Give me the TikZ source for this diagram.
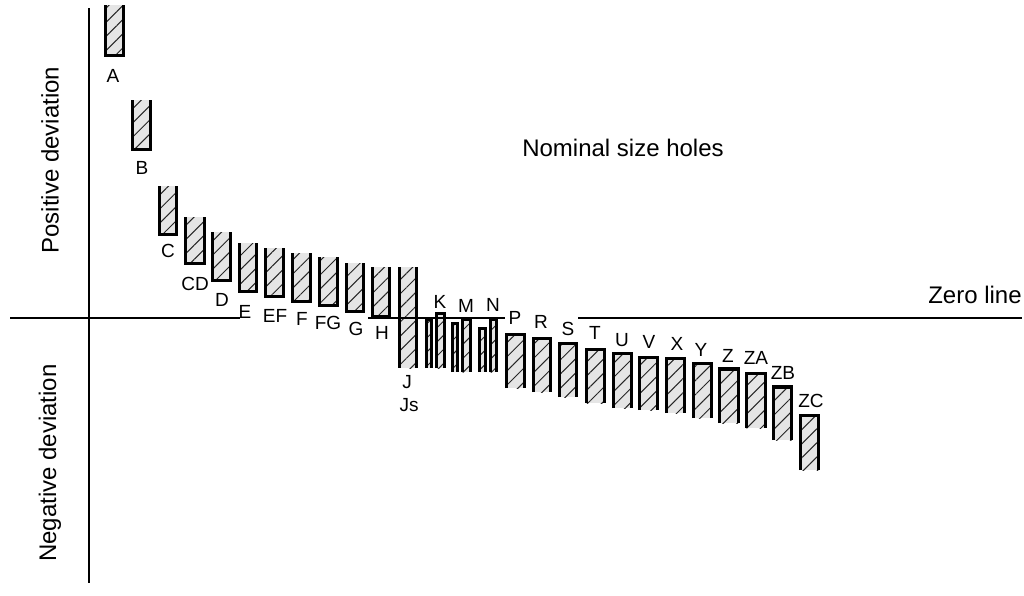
\documentclass[tikz,border=0pt]{standalone}
\usepackage{fontspec}
\setmainfont{Liberation Sans}
\usetikzlibrary{patterns.meta}

\tikzset{
  hatch/.style={preaction={fill=black!10}, pattern={Lines[angle=45,distance=10pt,line width=1pt]}, pattern color=black!85},
  bar/.style={hatch, line width=3.6pt},
  tag/.style={font=\fontsize{19}{19}\selectfont, inner sep=0pt},
  bigtext/.style={font=\fontsize{24}{24}\selectfont, inner sep=0pt},
  thin/.style={line width=1.3pt}
}

\begin{document}
\begin{tikzpicture}[x=1pt, y=-1pt]

  \useasboundingbox (0,0) rectangle (1024,595);

  % Bars above the zero line
  \draw[bar] (105.5,5) |- (123.5,55.5) -- (123.5,5);
  \draw[bar] (132.5,100) |- (150.5,149.5) -- (150.5,100);
  \draw[bar] (159.5,186) |- (176.5,234.5) -- (176.5,186);
  \draw[bar] (185.5,217) |- (204.5,263.5) -- (204.5,217);
  \draw[bar] (212.5,232) |- (230.5,280.5) -- (230.5,232);
  \draw[bar] (239.5,243) |- (256.5,291.5) -- (256.5,243);
  \draw[bar] (265.5,248) |- (283.5,296.5) -- (283.5,248);
  \draw[bar] (292.5,253) |- (310.5,301.5) -- (310.5,253);
  \draw[bar] (319.5,257) |- (337.5,305.5) -- (337.5,257);
  \draw[bar] (346.5,263) |- (363.5,311.5) -- (363.5,263);
  \draw[bar] (372.5,267) |- (389.5,317) -- (389.5,267);

  % Bar across the zero line
  \fill[hatch] (399.5,267) rectangle (416.5,368);
  \draw[line width=3.6pt] (399.5,267) -- (399.5,368) (416.5,267) -- (416.5,368);

  % Bars below the zero line
  \draw[bar] (426.5,368) |- (431.5,319) -- (431.5,368);
  \draw[bar] (436.5,368) |- (444.5,313.5) -- (444.5,368);
  \draw[bar] (452.5,372) |- (457.5,323.5) -- (457.5,372);
  \draw[bar] (462.5,372) |- (470.5,319.5) -- (470.5,372);
  \draw[bar] (479.5,372) |- (485.5,328.5) -- (485.5,372);
  \draw[bar] (490.5,372) |- (496.5,319.5) -- (496.5,372);
  \draw[bar] (506.5,388) |- (524.5,334.5) -- (524.5,388);
  \draw[bar] (533.5,392) |- (550.5,338.5) -- (550.5,392);
  \draw[bar] (559.5,397) |- (576.5,343.5) -- (576.5,397);
  \draw[bar] (586.5,403) |- (604.5,349.5) -- (604.5,403);
  \draw[bar] (613.5,408) |- (631.5,353.5) -- (631.5,408);
  \draw[bar] (639.5,410) |- (657.5,357.5) -- (657.5,410);
  \draw[bar] (666.5,413) |- (684.5,358.5) -- (684.5,413);
  \draw[bar] (693.5,418) |- (711.5,363.5) -- (711.5,418);
  \draw[bar] (719.5,423) |- (738.5,369) -- (738.5,423);
  \draw[bar] (746.5,428) |- (765.5,373.5) -- (765.5,428);
  \draw[bar] (773.5,440) |- (791.5,387) -- (791.5,440);
  \draw[bar] (800.5,470) |- (818.5,415.5) -- (818.5,470);

  % Axes
  \coordinate (top) at (89,8);
  \coordinate (bottom) at (89,583);
  \coordinate (z1) at (10,318);
  \coordinate (z2) at (240,318);
  \coordinate (z3) at (368,318);
  \coordinate (z4) at (505,318);
  \coordinate (z5) at (578,318);
  \coordinate (z6) at (1022,318);
  \draw[thin] (top) -- (bottom);
  \draw[thin] (z1) -- (z2);
  \draw[thin] (z3) -- (z4);
  \draw[thin] (z5) -- (z6);

  % Texts
  \node[bigtext, rotate=90] (pos) at (50,160) {Positive deviation};
  \node[bigtext, rotate=90] (neg) at (50,463) {Negative deviation};
  \node[bigtext] (title) at (623,148) {Nominal size holes};
  \node[bigtext] (zero) at (975,295) {Zero line};

  % Letters
  \node[tag] (tA) at (113,76) {A};
  \node[tag] (tB) at (142,168) {B};
  \node[tag] (tC) at (168,251) {C};
  \node[tag] (tCD) at (195,284) {CD};
  \node[tag] (tD) at (222,300) {D};
  \node[tag] (tE) at (245,312) {E};
  \node[tag] (tEF) at (275,316) {EF};
  \node[tag] (tF) at (302,319) {F};
  \node[tag] (tFG) at (328,323) {FG};
  \node[tag] (tG) at (356,329) {G};
  \node[tag] (tH) at (382,333) {H};
  \node[tag] (tJ) at (407,382) {J};
  \node[tag] (tJs) at (409,405) {Js};
  \node[tag] (tK) at (440,302) {K};
  \node[tag] (tM) at (466,306) {M};
  \node[tag] (tN) at (493,305) {N};
  \node[tag] (tP) at (515,318) {P};
  \node[tag] (tR) at (541,322) {R};
  \node[tag] (tS) at (568,329) {S};
  \node[tag] (tT) at (595,333) {T};
  \node[tag] (tU) at (622,340) {U};
  \node[tag] (tV) at (649,342) {V};
  \node[tag] (tX) at (677,344) {X};
  \node[tag] (tY) at (701,350) {Y};
  \node[tag] (tZ) at (728,356) {Z};
  \node[tag] (tZA) at (756,358) {ZA};
  \node[tag] (tZB) at (783,373) {ZB};
  \node[tag] (tZC) at (811,401) {ZC};

\end{tikzpicture}
\end{document}
